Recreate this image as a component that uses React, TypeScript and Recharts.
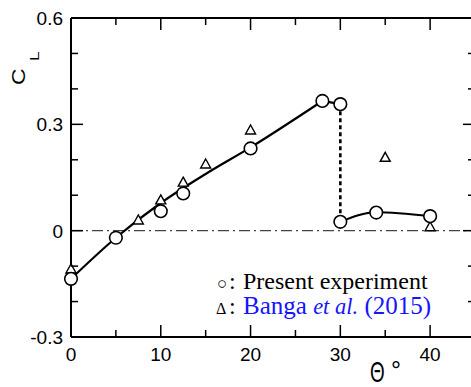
import React from "react";
import { ComposedChart, Line, Scatter, XAxis, YAxis, ReferenceLine } from "recharts";

// Lift coefficient against angle of attack
const presentAngle = [0, 5, 10, 12.5, 20, 28, 30, 30, 34, 40];
const presentCl = [-0.136, -0.02, 0.055, 0.105, 0.232, 0.366, 0.357, 0.025, 0.051, 0.041];

const bangaAngle = [0, 7.5, 10, 12.5, 15, 20, 35, 40];
const bangaCl = [-0.108, 0.03, 0.087, 0.137, 0.188, 0.284, 0.207, 0.011];

// faired curves either side of the stall, plus the drop at 30 deg
const preStallAngle = [0, 5, 10, 15, 20, 28];
const preStallCl = [-0.136, -0.02, 0.078, 0.16, 0.235, 0.366];
const peakAngle = [28, 30];
const peakCl = [0.366, 0.357];
const postStallAngle = [30, 34, 40];
const postStallCl = [0.025, 0.052, 0.041];
const stallAngle = [30, 30];
const stallCl = [0.357, 0.025];

const xTicks = [0, 5, 10, 15, 20, 25, 30, 35, 40];
const xLabels = [0, 10, 20, 30, 40];
const yTicks = [-0.3, -0.2, -0.1, 0, 0.1, 0.2, 0.3, 0.4, 0.5, 0.6];
const yLabels = [-0.3, 0, 0.3, 0.6];

const toPoints = (xs: number[], ys: number[]) => xs.map((x, i) => ({ x, y: ys[i] }));

const CHART_W = 480;
const CHART_H = 387;
const PLOT_LEFT = 71;
const PLOT_RIGHT = 475;
const PLOT_TOP = 18;
const PLOT_BOTTOM = 337;

const SANS = "'Liberation Sans', Arial, sans-serif";
const SERIF = "'Liberation Serif', 'Times New Roman', serif";
const BLUE = "#1414ff";

const isLabel = (v: number, list: number[]) => list.some((l) => Math.abs(l - v) < 1e-6);

const XTick = ({ x, payload }: any) => {
  const v = payload.value;
  const major = isLabel(v, xLabels);
  const len = major ? 12 : 7;
  return (
    <g>
      <line x1={x} x2={x} y1={PLOT_BOTTOM} y2={PLOT_BOTTOM - len} stroke="#000" strokeWidth={1.5} />
      <line x1={x} x2={x} y1={PLOT_TOP} y2={PLOT_TOP + len} stroke="#000" strokeWidth={1.5} />
      {major && (
        <text x={x} y={PLOT_BOTTOM + 24} textAnchor="middle" fontSize={19} fontFamily={SANS} fill="#000">
          {v}
        </text>
      )}
    </g>
  );
};

const YTick = ({ y, payload }: any) => {
  const v = payload.value;
  const major = isLabel(v, yLabels);
  const len = major ? 12 : 7;
  return (
    <g>
      <line x1={PLOT_LEFT} x2={PLOT_LEFT + len} y1={y} y2={y} stroke="#000" strokeWidth={1.5} />
      <line x1={PLOT_RIGHT - len} x2={PLOT_RIGHT} y1={y} y2={y} stroke="#000" strokeWidth={1.5} />
      {major && (
        <text x={63} y={y + 7} textAnchor="end" fontSize={19} fontFamily={SANS} fill="#000">
          {Math.abs(v) < 1e-6 ? "0" : v.toFixed(1)}
        </text>
      )}
    </g>
  );
};

const OpenCircle = ({ cx, cy }: any) => (
  <circle cx={cx} cy={cy} r={6.3} fill="#fff" stroke="#000" strokeWidth={1.6} />
);

const OpenTriangle = ({ cx, cy }: any) => (
  <path
    d={`M${cx},${cy - 5}L${cx + 5},${cy + 4}L${cx - 5},${cy + 4}Z`}
    fill="#fff"
    stroke="#000"
    strokeWidth={1.4}
  />
);

const curveProps = {
  dataKey: "y",
  stroke: "#000",
  strokeWidth: 2.2,
  dot: false,
  isAnimationActive: false,
};

export default function App() {
  return (
    <div style={{ position: "absolute", left: 0, top: 0, width: 471, height: 387, overflow: "hidden", background: "#fff" }}>
      <ComposedChart width={CHART_W} height={CHART_H} margin={{ top: PLOT_TOP, right: CHART_W - PLOT_RIGHT, left: 0, bottom: 0 }}>
        <XAxis
          type="number"
          dataKey="x"
          domain={[0, 45]}
          ticks={xTicks}
          interval={0}
          height={CHART_H - PLOT_BOTTOM}
          axisLine={{ stroke: "#000", strokeWidth: 2 }}
          tickLine={false}
          tick={<XTick />}
        />
        <YAxis
          type="number"
          dataKey="y"
          domain={[-0.3, 0.6]}
          ticks={yTicks}
          interval={0}
          width={PLOT_LEFT}
          axisLine={{ stroke: "#000", strokeWidth: 2 }}
          tickLine={false}
          tick={<YTick />}
        />
        <ReferenceLine y={0.6} stroke="#000" strokeWidth={2} />
        <ReferenceLine x={45} stroke="#000" strokeWidth={2} />
        <ReferenceLine y={0} stroke="#444" strokeWidth={1.3} strokeDasharray="11 4 2 4" />
        <Line {...curveProps} data={toPoints(preStallAngle, preStallCl)} type="monotone" />
        <Line {...curveProps} data={toPoints(peakAngle, peakCl)} type="linear" />
        <Line {...curveProps} data={toPoints(postStallAngle, postStallCl)} type="monotone" />
        <Line
          {...curveProps}
          data={toPoints(stallAngle, stallCl)}
          type="linear"
          strokeWidth={2.6}
          strokeDasharray="4 3"
        />
        <Scatter data={toPoints(bangaAngle, bangaCl)} dataKey="y" shape={<OpenTriangle />} isAnimationActive={false} />
        <Scatter data={toPoints(presentAngle, presentCl)} dataKey="y" shape={<OpenCircle />} isAnimationActive={false} />
      </ComposedChart>

      <svg width={471} height={387} style={{ position: "absolute", left: 0, top: 0, pointerEvents: "none" }}>
        {/* axis titles */}
        <text transform="translate(25,85) rotate(-90) scale(1,0.8)" fontSize={23} fontFamily={SANS} fill="#000">
          C
        </text>
        <text transform="translate(39,61) rotate(-90) scale(1,0.8)" fontSize={17} fontFamily={SANS} fill="#000">
          L
        </text>
        <text transform="translate(370,382) scale(0.65,1)" fontSize={29} fontFamily={SANS} fill="#000">
          Θ
        </text>
        <text x={391} y={379} fontSize={25} fontFamily={SANS} fill="#000">
          °
        </text>

        {/* legend */}
        <text x={217} y={289} fontSize={24} fontFamily={SERIF} fill="#000">
          <tspan fontSize={17}>○</tspan>
          <tspan x={229}>:</tspan>
        </text>
        <text x={243} y={289} fontSize={24} fontFamily={SERIF} fill="#000">
          Present experiment
        </text>
        <text x={216} y={314} fontSize={24} fontFamily={SERIF} fill="#000">
          <tspan fontSize={16}>Δ</tspan>
          <tspan x={229}>:</tspan>
        </text>
        <text x={243} y={314} fontSize={25} fontFamily={SERIF} fill={BLUE}>
          Banga <tspan fontStyle="italic" fontSize={22.5}>et al.</tspan> (2015)
        </text>
      </svg>
    </div>
  );
}
